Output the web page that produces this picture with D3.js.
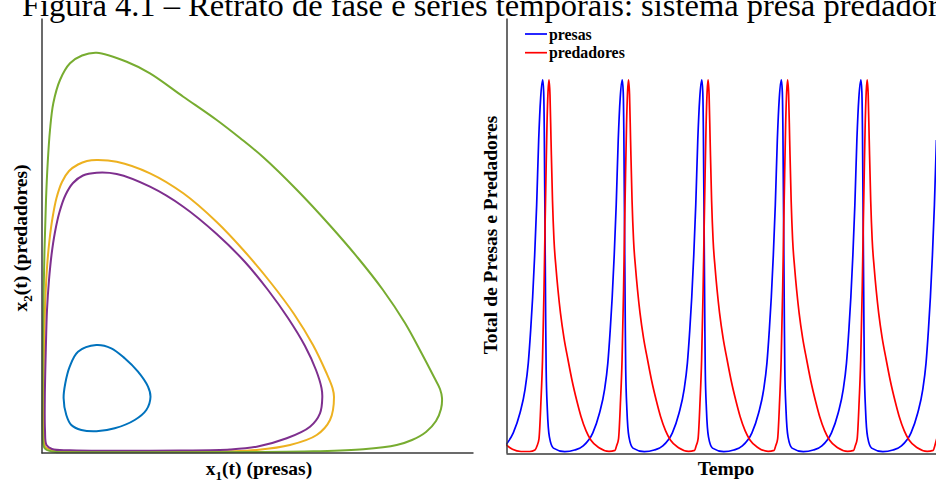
<!DOCTYPE html>
<html>
<head>
<meta charset="utf-8">
<script src="https://cdn.jsdelivr.net/npm/d3@7/dist/d3.min.js"></script>
<style>
body{margin:0;background:#fff;}
svg{display:block;}
text{font-family:"Liberation Serif","Times New Roman",serif;}
</style>
</head>
<body>
<svg width="936" height="485"></svg>
<script>
var WIDTH = 936;
var HEIGHT = 485;

// retrato de fase: orbitas fechadas (x1 = presas, x2 = predadores)
var orbitaAzulX1 = [5.53, 7.03, 8.37, 9.7, 10.7, 10.95, 10.53, 9.37, 7.37, 5.55, 4.03, 3.03, 2.53, 2.26, 2.43, 2.87, 3.7];
var orbitaAzulX2 = [10.8, 10.47, 9.47, 8.13, 6.63, 5.63, 4.3, 3.3, 2.47, 2.17, 2.3, 2.8, 3.8, 5.5, 6.97, 8.63, 10.13];

var orbitaAmarelaX1 = [5.57, 7.57, 10.9, 14.23, 17.57, 20.23, 23.0, 25.3, 27.2, 28.5, 29.15, 29.3, 28.9, 27.57, 24.9, 21.57, 18.9, 11.9, 4.9, 1.4, 0.45, 0.28, 0.25, 0.3, 0.43, 0.62, 0.85, 1.15, 1.55, 2.1, 2.8, 3.7, 4.6];
var orbitaAmarelaX2 = [29.3, 29.13, 27.97, 25.97, 23.1, 20.3, 17.0, 13.9, 10.8, 8.1, 6.5, 5.6, 3.3, 1.8, 0.8, 0.3, 0.17, 0.12, 0.14, 0.25, 0.6, 2.3, 5.3, 10.3, 15.3, 18.8, 21.3, 23.5, 25.5, 27.1, 28.2, 28.85, 29.2];

var orbitaRoxaX1 = [5.57, 7.57, 10.9, 14.23, 17.57, 20.4, 22.7, 24.7, 26.4, 27.5, 28.05, 28.13, 27.9, 26.9, 24.57, 21.57, 18.9, 13.9, 7.9, 2.9, 1.1, 0.55, 0.4, 0.38, 0.48, 0.6, 0.8, 1.05, 1.4, 1.85, 2.45, 3.2, 4.2];
var orbitaRoxaX2 = [28.03, 27.9, 26.63, 24.63, 21.9, 19.1, 16.3, 13.5, 10.7, 8.3, 6.5, 5.6, 3.97, 2.63, 1.47, 0.63, 0.35, 0.25, 0.22, 0.27, 0.4, 0.8, 2.3, 5.3, 10.3, 14.3, 17.3, 19.8, 22.1, 24.1, 25.8, 27.0, 27.75];

var orbitaVerdeX1 = [5.57, 8.57, 10.9, 14.23, 17.57, 19.9, 22.2, 25.6, 28.9, 31.7, 34.2, 36.4, 38.1, 39.3, 39.9, 40.1, 40.0, 39.5, 38.5, 37.1, 35.57, 32.23, 27.23, 20.9, 10.9, 3.9, 1.1, 0.35, 0.16, 0.15, 0.2, 0.35, 0.5, 0.67, 0.9, 1.23, 1.9, 2.9, 4.1];
var orbitaVerdeX2 = [40.03, 39.13, 37.97, 35.63, 33.3, 31.5, 29.6, 26.3, 22.75, 19.5, 16.3, 13.0, 9.9, 7.6, 6.4, 5.5, 4.4, 3.2, 2.1, 1.3, 0.8, 0.37, 0.17, 0.1, 0.07, 0.08, 0.15, 0.5, 2.3, 5.3, 12.3, 20.3, 25.3, 29.0, 32.3, 34.97, 37.3, 38.97, 39.75];

// series temporais
var tempoPresas = [0, 1.69, 3.25, 4.41, 5.18, 5.74, 6.20, 6.67, 7.13, 7.60, 8.06, 8.53, 8.76, 8.90, 9.06, 9.23, 9.34, 9.62, 10.09, 11.02, 13.65, 15.97,
  17.96, 20.19, 21.75, 22.91, 23.68, 24.24, 24.70, 25.17, 25.63, 26.10, 26.56, 27.03, 27.26, 27.40, 27.56, 27.73, 27.84, 28.12, 28.59, 29.52, 32.15, 34.47,
  36.46, 38.69, 40.25, 41.41, 42.18, 42.74, 43.20, 43.67, 44.13, 44.60, 45.06, 45.53, 45.76, 45.90, 46.06, 46.23, 46.34, 46.62, 47.09, 48.02, 50.65, 52.97,
  54.96, 57.19, 58.75, 59.91, 60.68, 61.24, 61.70, 62.17, 62.63, 63.10, 63.56, 64.03, 64.26, 64.40, 64.56, 64.73, 64.84, 65.12, 65.59, 66.52, 69.15, 71.47,
  73.46, 75.69, 77.25, 78.41, 79.18, 79.74, 80.20, 80.67, 81.13, 81.60, 82.06, 82.53, 82.76, 82.90, 83.06, 83.23, 83.34, 83.62, 84.09, 85.02, 87.65, 89.97,
  91.96, 94.19, 95.75, 96.91, 97.68, 98.24, 98.70, 99.17, 99.63, 100.10];
var presas = [2.2, 5.4, 10.7, 16.9, 24.1, 33.0, 41.8, 53.1, 66.5, 83.9, 95.2, 100, 96.8, 86.6, 62.5, 35.7, 22.3, 11.5, 4.3, 1.3, 0.35, 0.8,
  1.9, 5.4, 10.7, 16.9, 24.1, 33.0, 41.8, 53.1, 66.5, 83.9, 95.2, 100, 96.8, 86.6, 62.5, 35.7, 22.3, 11.5, 4.3, 1.3, 0.35, 0.8,
  1.9, 5.4, 10.7, 16.9, 24.1, 33.0, 41.8, 53.1, 66.5, 83.9, 95.2, 100, 96.8, 86.6, 62.5, 35.7, 22.3, 11.5, 4.3, 1.3, 0.35, 0.8,
  1.9, 5.4, 10.7, 16.9, 24.1, 33.0, 41.8, 53.1, 66.5, 83.9, 95.2, 100, 96.8, 86.6, 62.5, 35.7, 22.3, 11.5, 4.3, 1.3, 0.35, 0.8,
  1.9, 5.4, 10.7, 16.9, 24.1, 33.0, 41.8, 53.1, 66.5, 83.9, 95.2, 100, 96.8, 86.6, 62.5, 35.7, 22.3, 11.5, 4.3, 1.3, 0.35, 0.8,
  1.9, 5.4, 10.7, 16.9, 24.1, 33.0, 41.8, 53.1, 66.5, 83.9];

var tempoPredadores = [0, 1.5, 3.5, 5.5, 6.74,
  7.21, 7.67, 8.14, 8.49, 8.84, 9.07, 9.30, 9.53, 9.77, 10.00, 10.23, 10.47, 10.81, 11.16, 11.63, 12.09, 12.67, 13.49, 14.42, 15.35, 16.51, 17.44, 18.60, 19.77, 21.63, 23.95, 25.35,
  25.71, 26.17, 26.64, 26.99, 27.34, 27.57, 27.80, 28.03, 28.27, 28.50, 28.73, 28.97, 29.31, 29.66, 30.13, 30.59, 31.17, 31.99, 32.92, 33.85, 35.01, 35.94, 37.10, 38.27, 40.13, 42.45, 43.85,
  44.21, 44.67, 45.14, 45.49, 45.84, 46.07, 46.30, 46.53, 46.77, 47.00, 47.23, 47.47, 47.81, 48.16, 48.63, 49.09, 49.67, 50.49, 51.42, 52.35, 53.51, 54.44, 55.60, 56.77, 58.63, 60.95, 62.35,
  62.71, 63.17, 63.64, 63.99, 64.34, 64.57, 64.80, 65.03, 65.27, 65.50, 65.73, 65.97, 66.31, 66.66, 67.13, 67.59, 68.17, 68.99, 69.92, 70.85, 72.01, 72.94, 74.10, 75.27, 77.13, 79.45, 80.85,
  81.21, 81.67, 82.14, 82.49, 82.84, 83.07, 83.30, 83.53, 83.77, 84.00, 84.23, 84.47, 84.81, 85.16, 85.63, 86.09, 86.67, 87.49, 88.42, 89.35, 90.51, 91.44, 92.60, 93.77, 95.63, 97.95, 99.35,
  99.71, 100.17];
var predadores = [2.2, 1.0, 0.4, 0.4, 0.8,
  1.9, 3.8, 14.2, 24.9, 43.7, 59.8, 74.5, 87.9, 96.8, 100, 96.0, 83.9, 67.8, 57.1, 49.6, 43.7, 37.5, 30.8, 25.0, 19.5, 13.8, 9.8, 6.0, 3.4, 1.4, 0.45, 0.7,
  1.9, 3.8, 14.2, 24.9, 43.7, 59.8, 74.5, 87.9, 96.8, 100, 96.0, 83.9, 67.8, 57.1, 49.6, 43.7, 37.5, 30.8, 25.0, 19.5, 13.8, 9.8, 6.0, 3.4, 1.4, 0.45, 0.7,
  1.9, 3.8, 14.2, 24.9, 43.7, 59.8, 74.5, 87.9, 96.8, 100, 96.0, 83.9, 67.8, 57.1, 49.6, 43.7, 37.5, 30.8, 25.0, 19.5, 13.8, 9.8, 6.0, 3.4, 1.4, 0.45, 0.7,
  1.9, 3.8, 14.2, 24.9, 43.7, 59.8, 74.5, 87.9, 96.8, 100, 96.0, 83.9, 67.8, 57.1, 49.6, 43.7, 37.5, 30.8, 25.0, 19.5, 13.8, 9.8, 6.0, 3.4, 1.4, 0.45, 0.7,
  1.9, 3.8, 14.2, 24.9, 43.7, 59.8, 74.5, 87.9, 96.8, 100, 96.0, 83.9, 67.8, 57.1, 49.6, 43.7, 37.5, 30.8, 25.0, 19.5, 13.8, 9.8, 6.0, 3.4, 1.4, 0.45, 0.7,
  1.9, 3.8];

var legenda = ['presas', 'predadores'];
var titulo = 'Figura 4.1 \u2013 Retrato de fase e s\u00e9ries temporais: sistema presa predador';

var svg = d3.select('svg')
  .attr('width', WIDTH)
  .attr('height', HEIGHT);

// titulo (cortado no topo, como na figura)
svg.append('text')
  .attr('x', 22)
  .attr('y', 16)
  .style('font-size', '32.5px')
  .text(titulo);

// ---------- painel esquerdo ----------
var xFase = d3.scaleLinear().domain([0, 43.2]).range([41, 473]);
var yFase = d3.scaleLinear().domain([0, 43.5]).range([453, 18]);

var linhaFase = d3.line()
  .x(function(d){ return xFase(d[0]); })
  .y(function(d){ return yFase(d[1]); })
  .curve(d3.curveCatmullRomClosed.alpha(0.5));

var orbitas = [
  {x: orbitaAzulX1, y: orbitaAzulX2, cor: '#0072BD'},
  {x: orbitaAmarelaX1, y: orbitaAmarelaX2, cor: '#EDB120'},
  {x: orbitaRoxaX1, y: orbitaRoxaX2, cor: '#7E2F8E'},
  {x: orbitaVerdeX1, y: orbitaVerdeX2, cor: '#77AC30'}
];

svg.append('clipPath').attr('id', 'clipFase')
  .append('rect').attr('x', 41).attr('y', 18).attr('width', 432).attr('height', 436);

svg.append('g').attr('clip-path', 'url(#clipFase)')
  .selectAll('path').data(orbitas).enter()
  .append('path')
  .attr('d', function(o){ return linhaFase(o.x.map(function(v, i){ return [v, o.y[i]]; })); })
  .attr('fill', 'none')
  .attr('stroke', function(o){ return o.cor; })
  .attr('stroke-width', 2);

svg.append('g').attr('transform', 'translate(41.5,0)')
  .call(d3.axisLeft(yFase).ticks(0).tickSizeOuter(0));
svg.append('g').attr('transform', 'translate(0,452.5)')
  .call(d3.axisBottom(xFase).ticks(0).tickSizeOuter(0));

// ---------- painel direito ----------
var xTempo = d3.scaleLinear().domain([0, 100]).range([506, 936]);
var yTempo = d3.scaleLinear().domain([0, 116.6]).range([453, 18]);

svg.append('clipPath').attr('id', 'clipTempo')
  .append('rect').attr('x', 506).attr('y', 18).attr('width', 430).attr('height', 436);

var linhaTempo = d3.line()
  .x(function(d){ return xTempo(d[0]); })
  .y(function(d){ return yTempo(d[1]); })
  .curve(d3.curveMonotoneX);

var series = [
  {t: tempoPresas, v: presas, cor: '#0000FF'},
  {t: tempoPredadores, v: predadores, cor: '#FF0000'}
];

svg.append('g').attr('clip-path', 'url(#clipTempo)')
  .selectAll('path').data(series).enter()
  .append('path')
  .attr('d', function(s){ return linhaTempo(s.t.map(function(t, i){ return [t, s.v[i]]; })); })
  .attr('fill', 'none')
  .attr('stroke', function(s){ return s.cor; })
  .attr('stroke-width', 1.7);

svg.append('g').attr('transform', 'translate(506.5,0)')
  .call(d3.axisLeft(yTempo).ticks(0).tickSizeOuter(0));
svg.append('g').attr('transform', 'translate(0,453.5)')
  .call(d3.axisBottom(xTempo).ticks(0).tickSizeOuter(0));

svg.selectAll('.domain').attr('stroke', '#3a3a3a').attr('stroke-width', 1.5);

// legenda
var leg = svg.append('g').selectAll('g').data(legenda).enter().append('g')
  .attr('transform', function(d, i){ return 'translate(525,' + (34 + i * 18.7) + ')'; });
leg.append('line')
  .attr('x1', 0).attr('x2', 22).attr('y1', 0).attr('y2', 0)
  .attr('stroke', function(d, i){ return series[i].cor; })
  .attr('stroke-width', 1.7);
leg.append('text')
  .attr('x', 24).attr('y', 5.5)
  .style('font-size', '15.8px').style('font-weight', 'bold')
  .text(function(d){ return d; });

// rotulos dos eixos
var rx = svg.append('text')
  .attr('x', 259).attr('y', 475)
  .attr('text-anchor', 'middle')
  .style('font-size', '19.5px').style('font-weight', 'bold');
rx.append('tspan').text('x');
rx.append('tspan').attr('dy', 5).style('font-size', '13px').text('1');
rx.append('tspan').attr('dy', -5).text('(t) (presas)');

var ry = svg.append('text')
  .attr('transform', 'translate(27,238) rotate(-90)')
  .attr('text-anchor', 'middle')
  .style('font-size', '19.5px').style('font-weight', 'bold');
ry.append('tspan').text('x');
ry.append('tspan').attr('dy', 5).style('font-size', '13px').text('2');
ry.append('tspan').attr('dy', -5).text('(t) (predadores)');

svg.append('text')
  .attr('x', 726).attr('y', 475)
  .attr('text-anchor', 'middle')
  .style('font-size', '19.5px').style('font-weight', 'bold')
  .text('Tempo');

svg.append('text')
  .attr('transform', 'translate(497,235) rotate(-90)')
  .attr('text-anchor', 'middle')
  .style('font-size', '19.5px').style('font-weight', 'bold')
  .text('Total de Presas e Predadores');
</script>
</body>
</html>
